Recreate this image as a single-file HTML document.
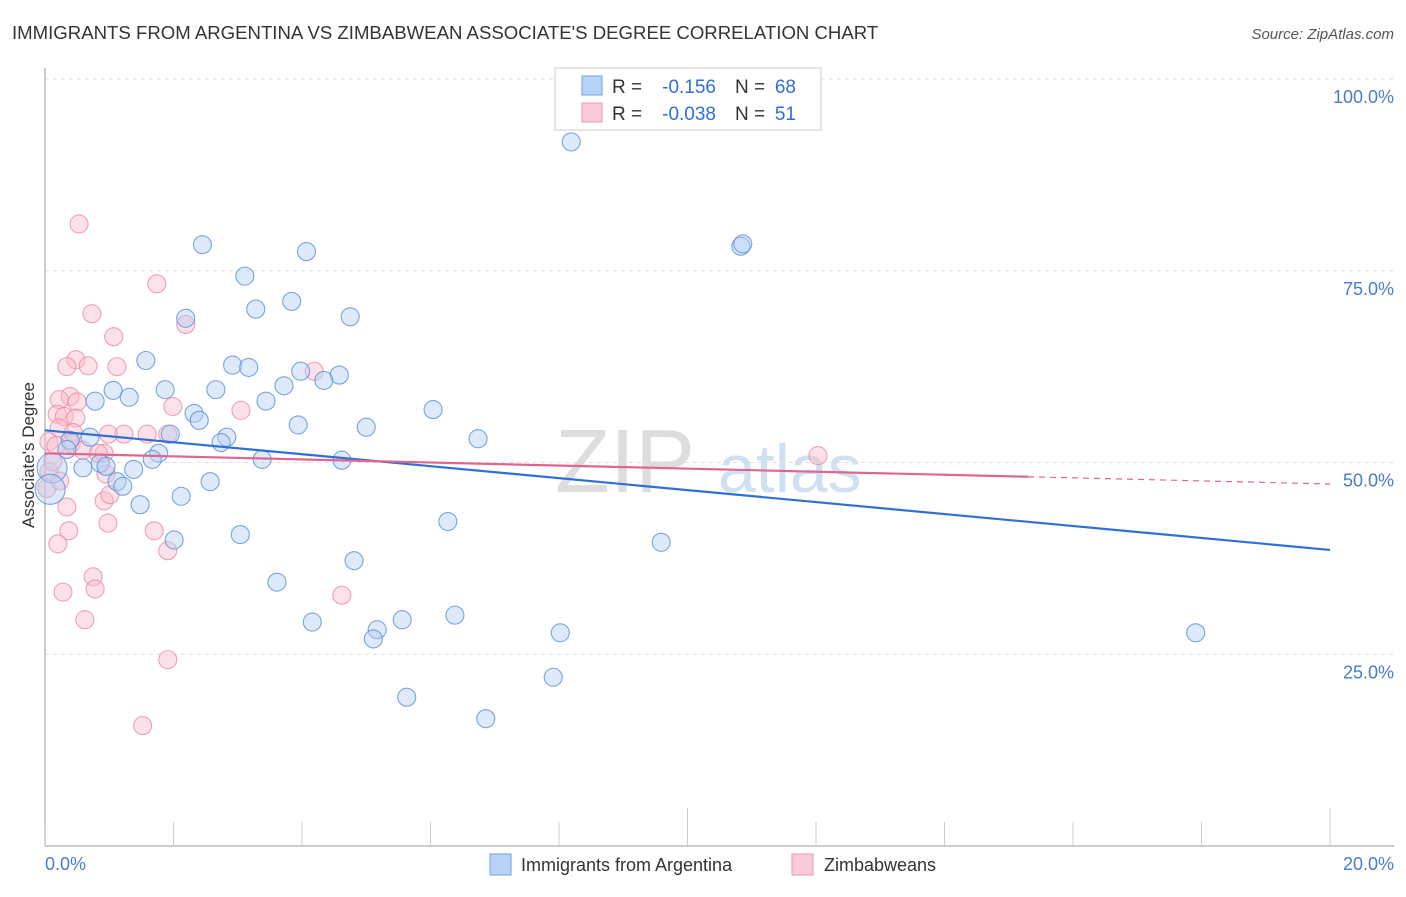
<!DOCTYPE html>
<html><head><meta charset="utf-8"><style>
body{margin:0;background:#fff;font-family:"Liberation Sans",sans-serif}
svg text{font-family:"Liberation Sans",sans-serif}
</style></head><body>
<svg id="chart" width="1406" height="892" viewBox="0 0 1406 892">
<text x="12" y="39" font-size="18.6" fill="#333">IMMIGRANTS FROM ARGENTINA VS ZIMBABWEAN ASSOCIATE'S DEGREE CORRELATION CHART</text>
<text x="1394" y="39" font-size="15" fill="#555" font-style="italic" text-anchor="end">Source: ZipAtlas.com</text>
<text x="555" y="492" font-size="90" fill="#ddd" font-family="Liberation Serif">ZIP</text>
<text x="718" y="492" font-size="68" fill="#cfe0f3">atlas</text>
<g id="grid"></g><g id="axes"></g><g id="pts"></g><g id="trend"></g>
<text x="34" y="455" font-size="17" fill="#333" transform="rotate(-90 34 455)" text-anchor="middle">Associate's Degree</text>
<text x="45" y="870" font-size="18" fill="#4a7bd0">0.0%</text>
<text x="1394" y="870" font-size="18" fill="#4a7bd0" text-anchor="end">20.0%</text>
<g>
<rect x="490" y="854" width="21" height="21" fill="#b8d3f5" stroke="#6fa0e0"/>
<text x="521" y="871" font-size="18" fill="#333">Immigrants from Argentina</text>
<rect x="792" y="854" width="21" height="21" fill="#fbcad8" stroke="#ec95b0"/>
<text x="824" y="871" font-size="18" fill="#333">Zimbabweans</text>
</g>
<g font-size="19">
<rect x="555" y="68" width="266" height="62" fill="#fff" stroke="#ccc"/>
<rect x="582" y="76" width="20" height="19" fill="#b8d3f5" stroke="#6fa0e0"/>
<rect x="582" y="103" width="20" height="19" fill="#fbcad8" stroke="#ec95b0"/>
<text x="612" y="93" fill="#333">R =</text><text x="716" y="93" fill="#2f6fd6" text-anchor="end">-0.156</text>
<text x="735" y="93" fill="#333">N =</text><text x="796" y="93" fill="#2f6fd6" text-anchor="end">68</text>
<text x="612" y="120" fill="#333">R =</text><text x="716" y="120" fill="#2f6fd6" text-anchor="end">-0.038</text>
<text x="735" y="120" fill="#333">N =</text><text x="796" y="120" fill="#2f6fd6" text-anchor="end">51</text>
</g>
</svg>
<script>
const yTicks=[25,50,75,100];
const yTickLabels=["25.0%","50.0%","75.0%","100.0%"];
const xTicks=[0,2,4,6,8,10,12,14,16,18,20];
const blueX=[8.19,2.45,4.07,10.83,10.86,3.11,3.84,3.28,2.19,4.75,1.57,2.92,3.17,3.98,4.58,4.34,3.72,1.87,2.66,1.06,1.31,0.78,3.44,6.04,2.32,2.40,3.94,5.0,1.95,2.83,0.70,2.74,6.74,0.39,0.34,1.77,1.67,3.38,4.62,0.86,0.95,0.59,1.38,1.12,1.21,2.57,2.12,1.48,6.27,3.04,2.01,9.59,4.81,3.61,6.38,5.56,4.16,5.17,5.11,8.02,17.91,5.63,7.91,6.86,0.11,0.08];
const blueY=[91.8,78.4,77.5,78.2,78.5,74.3,71.0,70.0,68.8,69.0,63.3,62.7,62.4,61.9,61.4,60.7,60.0,59.5,59.5,59.4,58.5,58.0,58.0,56.9,56.4,55.5,54.9,54.6,53.7,53.3,53.3,52.6,53.1,52.9,51.7,51.2,50.4,50.4,50.3,49.9,49.5,49.3,49.1,47.5,46.9,47.5,45.6,44.5,42.3,40.6,39.9,39.6,37.2,34.4,30.1,29.5,29.2,28.2,27.0,27.8,27.8,19.4,22.0,16.6,49.3,46.5];
const pinkX=[0.53,1.74,0.73,2.19,1.07,0.48,0.67,0.34,1.12,4.19,0.39,0.22,0.50,1.99,3.05,0.19,0.30,0.48,0.22,0.44,0.99,1.23,1.59,1.91,0.06,0.41,0.17,0.59,0.92,0.83,12.03,0.06,0.95,0.92,0.34,0.98,1.70,0.37,0.20,1.91,0.75,0.78,0.28,4.62,0.62,1.91,1.52,0.03,0.23,1.01,0.12];
const pinkY=[81.1,73.3,69.4,68.0,66.4,63.4,62.6,62.5,62.5,61.9,58.6,58.2,57.9,57.3,56.8,56.3,56.0,55.8,54.5,53.9,53.7,53.7,53.7,53.7,52.7,52.5,52.2,51.6,51.2,51.2,50.9,48.8,48.5,45.0,44.2,42.1,41.1,41.1,39.4,38.5,35.1,33.5,33.1,32.7,29.5,24.3,15.7,46.6,47.6,45.8,50.1];
const trendBlue=[54.2,38.6];
const trendPink=[51.2,47.2];
const trendPinkSolidEnd=15.3;
const X=v=>45+v/20*1285, Y=v=>846-v*7.67;
const NS="http://www.w3.org/2000/svg";
function mk(t,a,p){const e=document.createElementNS(NS,t);for(const k in a)e.setAttribute(k,a[k]);p.appendChild(e);return e;}
const grid=document.getElementById('grid'),axes=document.getElementById('axes'),pts=document.getElementById('pts'),tr=document.getElementById('trend');
yTicks.forEach((t,i)=>{
  const l=mk('line',{x1:45,x2:1394,y1:Y(t),y2:Y(t),stroke:'#ddd','stroke-dasharray':'4,4'},grid);
  
  
  const tx=mk('text',{x:1394,y:Y(t)+24,'font-size':18,fill:'#4a7bd0','text-anchor':'end'},grid);
  tx.textContent=yTickLabels[i];
  
  
});
const ax=mk('line',{x1:45,x2:1394,y1:846,y2:846,stroke:'#bbb','stroke-width':1.5},axes);


const ay=mk('line',{x1:45,x2:45,y1:68,y2:846,stroke:'#bbb','stroke-width':1.5},axes);


xTicks.forEach(t=>{
  const major=(t%10===0&&t>0);
  const l=mk('line',{x1:X(t),x2:X(t),y1:major?808:822,y2:846,stroke:'#ccc'},axes);
  
  
});
function dots(xs,ys,fill,stroke,name){
  xs.forEach((x,i)=>{
    const big=i>=xs.length-2&&name==='argentina-point';
    const c=mk('circle',{cx:X(x),cy:Y(ys[i]),r:big?15:9,fill:fill,'fill-opacity':0.45,stroke:stroke,'stroke-opacity':0.8,'stroke-width':1.1},pts);
    
    
  });
}
dots(pinkX,pinkY,'#f8bccd','#ec8aa8','zimbabwean-point');
dots(blueX,blueY,'#b5cff2','#5a8fdb','argentina-point');
const bl=mk('line',{x1:X(0),y1:Y(trendBlue[0]),x2:X(20),y2:Y(trendBlue[1]),stroke:'#2f6fd6','stroke-width':2.2},tr);


const py=x=>trendPink[0]+(trendPink[1]-trendPink[0])*x/20;
const pl=mk('line',{x1:X(0),y1:Y(trendPink[0]),x2:X(trendPinkSolidEnd),y2:Y(py(trendPinkSolidEnd)),stroke:'#e0668f','stroke-width':2.2},tr);


const pd=mk('line',{x1:X(trendPinkSolidEnd),y1:Y(py(trendPinkSolidEnd)),x2:X(20),y2:Y(trendPink[1]),stroke:'#e0668f','stroke-width':1.2,'stroke-dasharray':'6,5'},tr);


</script>
</body></html>
